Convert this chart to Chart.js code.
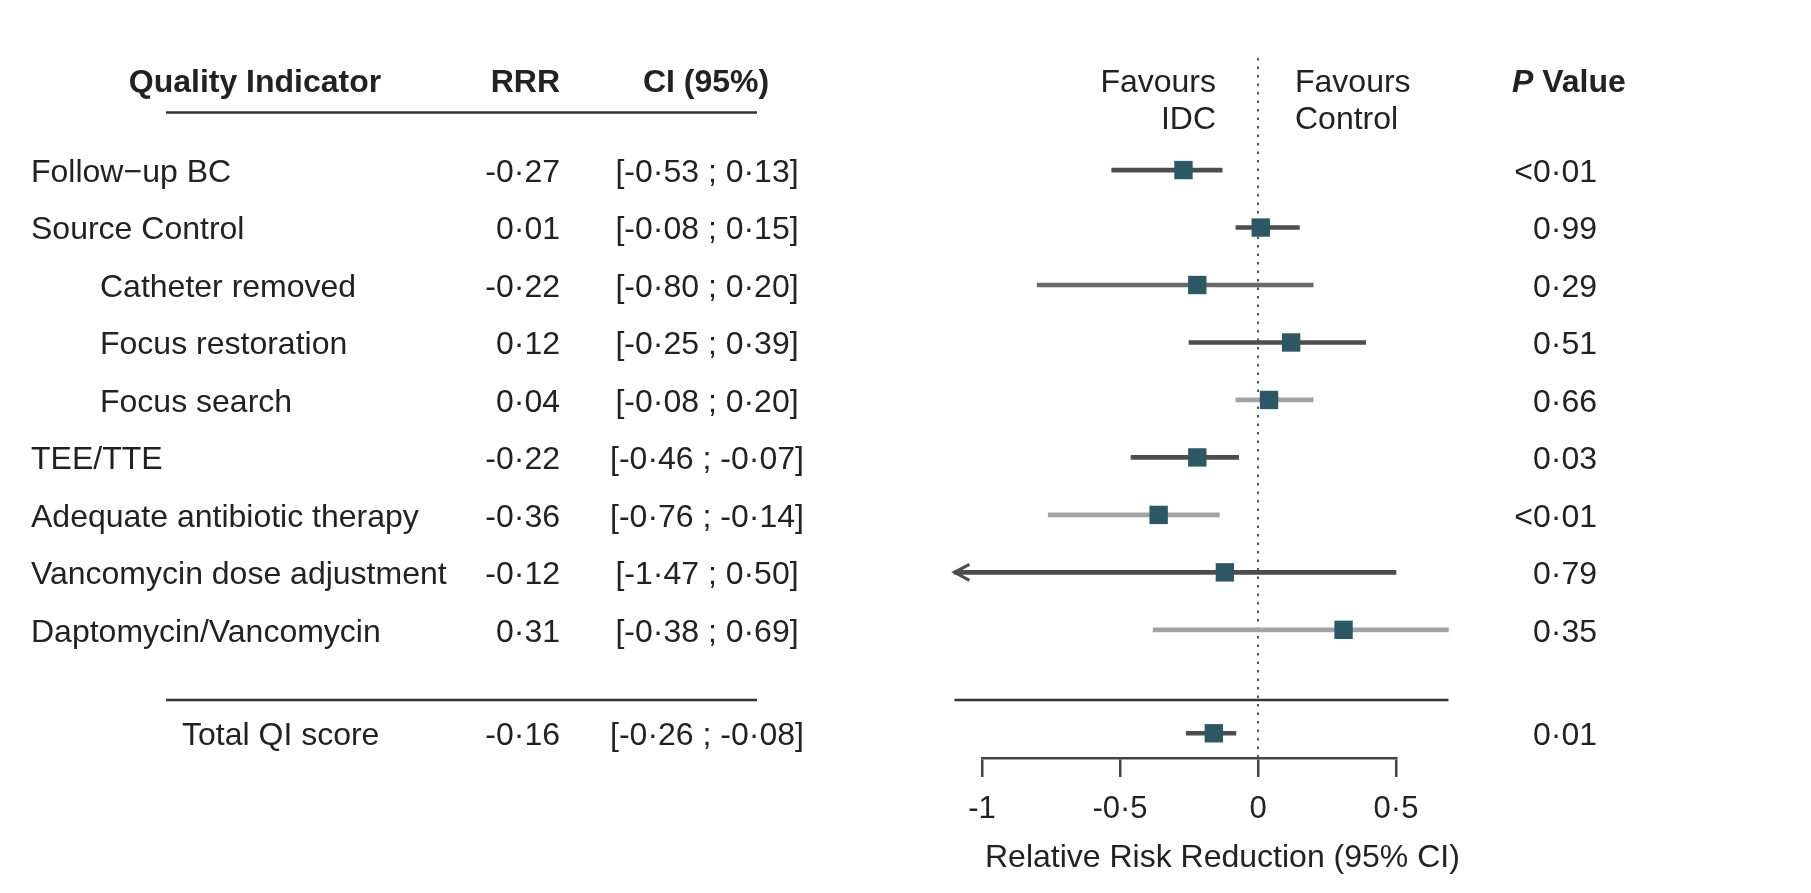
<!DOCTYPE html>
<html>
<head>
<meta charset="utf-8">
<title>Quality indicators - forest plot</title>
<script src="https://cdn.jsdelivr.net/npm/chart.js@4.4.1/dist/chart.umd.min.js"></script>
<style>
  html, body { margin: 0; padding: 0; background: #fff; }
  #wrap { position: relative; width: 1811px; height: 893px; }
</style>
</head>
<body>
<div id="wrap"><canvas id="forest"></canvas></div>
<script>
// table rows, top to bottom
const indicators = [
    "Follow\u2212up BC",
    "Source Control",
    "Catheter removed",
    "Focus restoration",
    "Focus search",
    "TEE/TTE",
    "Adequate antibiotic therapy",
    "Vancomycin dose adjustment",
    "Daptomycin/Vancomycin"
];
const isSubItem = [false, false, true, true, true, false, false, false, false];
const rrr = [-0.27, 0.01, -0.22, 0.12, 0.04, -0.22, -0.36, -0.12, 0.31];
const ciLower = [-0.53, -0.08, -0.80, -0.25, -0.08, -0.46, -0.76, -1.47, -0.38];
const ciUpper = [-0.13, 0.15, 0.20, 0.39, 0.20, -0.07, -0.14, 0.50, 0.69];
const ciText = [
    "[-0·53 ; 0·13]", "[-0·08 ; 0·15]", "[-0·80 ; 0·20]", "[-0·25 ; 0·39]", "[-0·08 ; 0·20]",
    "[-0·46 ; -0·07]", "[-0·76 ; -0·14]", "[-1·47 ; 0·50]", "[-0·38 ; 0·69]"
];
const pValues = ["<0·01", "0·99", "0·29", "0·51", "0·66", "0·03", "<0·01", "0·79", "0·35"];

// summary row
const totalLabel = "Total QI score";
const totalRrr = -0.16;
const totalLower = -0.26;
const totalUpper = -0.08;
const totalCiText = "[-0·26 ; -0·08]";
const totalP = "0·01";

const xTicks = [-1, -0.5, 0, 0.5];
const xTitle = "Relative Risk Reduction (95% CI)";

// plot limits (axis drawn from -1 to 0.5, marks may run to these)
const X_MIN = -1.1;
const X_MAX = 0.69;

// layout (row units on the y scale)
const TOTAL_ROW = 9.8;
const SEP_ROW = 9.22;
const HEAD_ROW = -1.57;
const HEAD_ROW2 = -0.92;
const RULE_ROW = -1.0;
const TEXT_SHIFT = 3;

const TEXT = '#222';
const MARKER = '#2c5865';
const DARK = '#4d4d4d';
const LIGHT = '#a3a3a3';
const ciColors = [DARK, DARK, '#6a6a6a', DARK, LIGHT, DARK, LIGHT, DARK, LIGHT, DARK];

const FONT = '"Liberation Sans", Arial, Helvetica, sans-serif';
Chart.defaults.font.family = FONT;

function fmt(v) {
    return v.toFixed(2).replace('.', '·');
}

function fmtTick(v) {
    return Number.isInteger(v) ? String(v) : String(v).replace('.', '·');
}

const rowY = indicators.map((_, i) => i).concat([TOTAL_ROW]);
const allRrr = rrr.concat([totalRrr]);
const allLower = ciLower.concat([totalLower]);
const allUpper = ciUpper.concat([totalUpper]);

const forestTable = {
    id: 'forestTable',
    beforeDatasetsDraw(chart) {
        const {ctx, chartArea, scales: {x}} = chart;
        const x0 = x.getPixelForValue(0);
        ctx.save();
        ctx.strokeStyle = '#555';
        ctx.lineWidth = 2;
        ctx.setLineDash([2.5, 6]);
        ctx.beginPath();
        ctx.moveTo(x0, chartArea.top);
        ctx.lineTo(x0, chartArea.bottom);
        ctx.stroke();
        ctx.restore();
    },
    afterDatasetsDraw(chart) {
        const {ctx, scales: {x, y}} = chart;
        ctx.save();
        ctx.strokeStyle = DARK;
        ctx.lineWidth = 3;
        allLower.forEach((lo, i) => {
            if (lo >= X_MIN) return;
            const px = x.getPixelForValue(X_MIN);
            const py = y.getPixelForValue(rowY[i]);
            ctx.beginPath();
            ctx.moveTo(px + 15, py - 8);
            ctx.lineTo(px, py);
            ctx.lineTo(px + 15, py + 8);
            ctx.stroke();
        });
        ctx.restore();
    },
    afterDraw(chart) {
        const {ctx, scales: {x, y}} = chart;
        const x0 = x.getPixelForValue(0);
        ctx.save();
        ctx.fillStyle = TEXT;
        ctx.textBaseline = 'middle';

        // header
        const hy = y.getPixelForValue(HEAD_ROW) + TEXT_SHIFT;
        ctx.font = 'bold 32px ' + FONT;
        ctx.textAlign = 'center';
        ctx.fillText('Quality Indicator', 255, hy);
        ctx.textAlign = 'right';
        ctx.fillText('RRR', 560, hy);
        ctx.textAlign = 'center';
        ctx.fillText('CI (95%)', 706, hy);

        ctx.textAlign = 'left';
        ctx.font = 'italic bold 32px ' + FONT;
        ctx.fillText('P', 1512, hy);
        const pw = ctx.measureText('P').width;
        ctx.font = 'bold 32px ' + FONT;
        ctx.fillText(' Value', 1512 + pw, hy);

        ctx.font = '32px ' + FONT;
        const hy2 = y.getPixelForValue(HEAD_ROW2) + TEXT_SHIFT;
        ctx.textAlign = 'right';
        ctx.fillText('Favours', x0 - 42, hy);
        ctx.fillText('IDC', x0 - 42, hy2);
        ctx.textAlign = 'left';
        ctx.fillText('Favours', x0 + 37, hy);
        ctx.fillText('Control', x0 + 37, hy2);

        // axis title, starts under the first tick
        ctx.fillText(xTitle, x.getPixelForValue(xTicks[0]) + 3, chart.chartArea.bottom + 100);

        // rules
        ctx.strokeStyle = '#333';
        ctx.lineWidth = 2.5;
        const ry = y.getPixelForValue(RULE_ROW);
        const sy = y.getPixelForValue(SEP_ROW);
        ctx.beginPath();
        ctx.moveTo(166, ry); ctx.lineTo(757, ry);
        ctx.moveTo(166, sy); ctx.lineTo(757, sy);
        ctx.moveTo(x.getPixelForValue(X_MIN), sy); ctx.lineTo(x.getPixelForValue(X_MAX), sy);
        ctx.stroke();

        // rows
        const labels = indicators.concat([totalLabel]);
        const cis = ciText.concat([totalCiText]);
        const ps = pValues.concat([totalP]);
        labels.forEach((label, i) => {
            const py = y.getPixelForValue(rowY[i]) + TEXT_SHIFT;
            const lx = i === labels.length - 1 ? 182 : (isSubItem[i] ? 100 : 31);
            ctx.textAlign = 'left';
            ctx.fillText(label, lx, py);
            ctx.textAlign = 'right';
            ctx.fillText(fmt(allRrr[i]), 560, py);
            ctx.textAlign = 'center';
            ctx.fillText(cis[i], 707, py);
            ctx.textAlign = 'right';
            ctx.fillText(ps[i], 1597, py);
        });
        ctx.restore();
    }
};

new Chart(document.getElementById('forest'), {
    type: 'scatter',
    data: {
        datasets: [
            {
                type: 'scatter',
                data: allRrr.map((v, i) => ({x: v, y: rowY[i]})),
                pointStyle: 'rect',
                pointRadius: 13,
                pointHoverRadius: 13,
                backgroundColor: MARKER,
                borderWidth: 0,
                clip: false
            },
            {
                type: 'bar',
                indexAxis: 'y',
                data: allLower.map((lo, i) => ({
                    y: rowY[i],
                    x: [Math.max(lo, X_MIN), Math.min(allUpper[i], X_MAX)]
                })),
                backgroundColor: ciColors,
                barThickness: 4,
                borderWidth: 0,
                borderSkipped: false,
                clip: false
            }
        ]
    },
    options: {
        responsive: true,
        maintainAspectRatio: false,
        animation: false,
        layout: { padding: { left: 982, right: 415, top: 58, bottom: 28 } },
        plugins: { legend: { display: false }, tooltip: { enabled: false } },
        scales: {
            x: {
                type: 'linear',
                min: -1,
                max: 0.5,
                offset: false,
                afterBuildTicks: s => { s.ticks = xTicks.map(v => ({value: v})); },
                afterFit: s => { s.height = 107; },
                grid: { drawOnChartArea: false, drawTicks: true, tickLength: 19, color: '#444', lineWidth: 2.5, offset: false },
                border: { display: true, color: '#444', width: 2.5 },
                ticks: { padding: 14, color: TEXT, font: { size: 31 }, maxRotation: 0, autoSkip: false, callback: v => fmtTick(v) },
                title: { display: false }
            },
            y: {
                type: 'linear',
                display: false,
                reverse: true,
                offset: false,
                grid: { offset: false },
                min: -1.95,
                max: 10.23
            }
        }
    },
    plugins: [forestTable]
});
</script>
</body>
</html>
